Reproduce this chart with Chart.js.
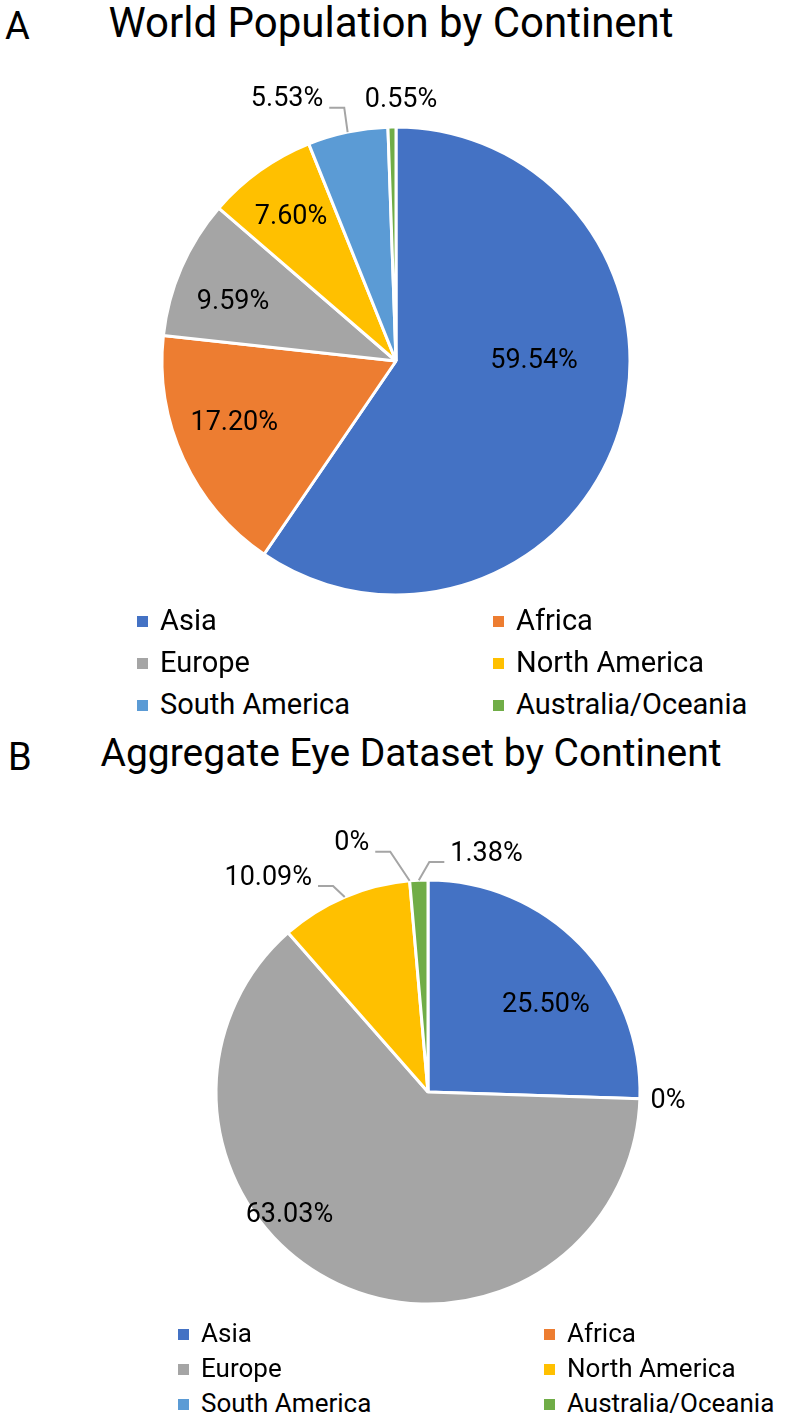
<!DOCTYPE html>
<html>
<head>
<meta charset="utf-8">
<script src="https://cdn.jsdelivr.net/npm/chart.js@4.4.1/dist/chart.umd.min.js"></script>
<style>
body { margin:0; width:796px; height:1418px; background:#fff; position:relative; overflow:hidden;
       font-family: Roboto, "Noto Sans", sans-serif; color:#000 }
.txt { position:absolute; white-space:nowrap }
.title { line-height:40px; transform:translateX(-50%) }
.tag { font-size:38px; line-height:40px }
.leg { position:absolute; white-space:nowrap; line-height:30px }
.leg i { display:inline-block; width:11px; height:11px; margin-right:12px; vertical-align:middle; position:relative; top:-1px }
canvas { position:absolute }
</style>
</head>
<body>
<div class="txt tag" style="left:5px;top:6px">A</div>
<div class="txt title" style="left:391px;top:3px;font-size:42px">World Population by Continent</div>
<canvas id="pieA" width="792" height="580" style="left:0;top:71px"></canvas>

<div class="txt tag" style="left:8px;top:737px">B</div>
<div class="txt title" style="left:411px;top:733px;font-size:39px">Aggregate Eye Dataset by Continent</div>
<canvas id="pieB" width="736" height="560" style="left:60px;top:812px"></canvas>

<script>
const continents = ['Asia', 'Africa', 'Europe', 'North America', 'South America', 'Australia/Oceania'];
const colors = ['#4472C4', '#ED7D31', '#A5A5A5', '#FFC000', '#5B9BD5', '#70AD47'];
const worldShare = [59.54, 17.20, 9.59, 7.60, 5.53, 0.55];
const eyeShare = [25.50, 0, 63.03, 10.09, 0, 1.38];

// percentage labels, placed around each slice's mid angle
const pieLabels = {
    id: 'pieLabels',
    afterDatasetsDraw(chart, args, opts) {
        const ctx = chart.ctx;
        const values = chart.data.datasets[0].data;
        chart.getDatasetMeta(0).data.forEach((arc, i) => {
            const p = arc.getProps(['x', 'y', 'startAngle', 'endAngle', 'outerRadius'], true);
            const mid = (p.startAngle + p.endAngle) / 2;
            const a = mid + opts.turn[i] * Math.PI / 180;
            const d = p.outerRadius * opts.dist[i];
            const tx = p.x + Math.cos(a) * d, ty = p.y + Math.sin(a) * d;
            const text = values[i] === 0 ? '0%' : values[i].toFixed(2) + '%';
            ctx.save();
            ctx.font = '27px Roboto';
            ctx.fillStyle = '#000';
            ctx.textAlign = 'center';
            ctx.textBaseline = 'middle';
            ctx.fillText(text, tx, ty);
            if (opts.leader[i]) {
                const w = ctx.measureText(text).width;
                const ex = p.x + Math.cos(mid) * p.outerRadius, ey = p.y + Math.sin(mid) * p.outerRadius;
                const side = ex > tx ? 1 : -1;
                const sx = tx + side * (w / 2 + 6), ly = ty + 8;
                ctx.strokeStyle = '#A5A5A5';
                ctx.lineWidth = 2;
                ctx.beginPath();
                ctx.moveTo(sx, ly);
                ctx.lineTo(sx + side * 15, ly);
                ctx.lineTo(ex, ey);
                ctx.stroke();
            }
            ctx.restore();
        });
    }
};

function makePie(id, values, radius, place) {
    return new Chart(document.getElementById(id), {
        type: 'pie',
        data: {
            labels: continents,
            datasets: [{
                data: values,
                backgroundColor: colors,
                borderColor: '#fff',
                borderWidth: 3,
                radius: radius
            }]
        },
        options: {
            responsive: false,
            animation: false,
            plugins: {
                legend: { display: false },
                tooltip: { enabled: false },
                pieLabels: place
            }
        },
        plugins: [pieLabels]
    });
}

makePie('pieA', worldShare, 234, {
    dist: [0.59, 0.74, 0.74, 0.76, 1.21, 1.116],
    turn: [-17, 3.8, -3.7, -0.6, -10.7, 2.1],
    leader: [0, 0, 0, 0, 1, 0]
});
makePie('pieB', eyeShare, 212, {
    dist: [0.69, 1.133, 0.876, 1.26, 1.225, 1.156],
    turn: [7.8, 0.5, 23, -13.6, -12.1, 16.3],
    leader: [0, 0, 0, 1, 1, 1]
});

// two-column legends
function legend(cols, rows, size) {
    continents.forEach((name, i) => {
        const el = document.createElement('div');
        el.className = 'leg';
        el.style.fontSize = size + 'px';
        el.style.left = cols[i % 2] + 'px';
        el.style.top = (rows[Math.floor(i / 2)] - 15) + 'px';
        el.innerHTML = '<i style="background:' + colors[i] + '"></i>' + name;
        document.body.appendChild(el);
    });
}
legend([137, 493], [620, 662, 704], 29);
legend([178, 544], [1333, 1368, 1403], 26);
</script>
</body>
</html>
